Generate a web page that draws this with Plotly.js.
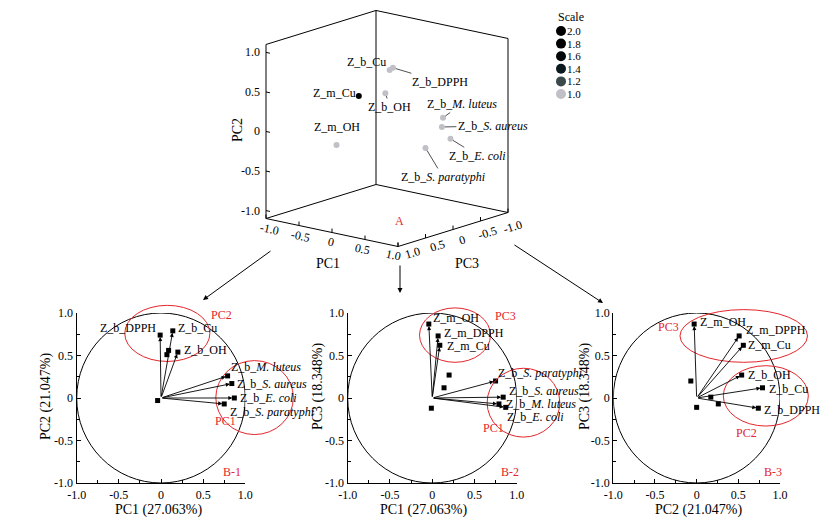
<!DOCTYPE html>
<html><head><meta charset="utf-8">
<script src="https://cdn.plot.ly/plotly-3.0.1.min.js"></script>
<style>body{margin:0;background:#fff}#chart{width:830px;height:530px}</style>
</head><body><div id="chart"></div>
<script>
// ---------------- data ----------------
const variables = ['Z_b_DPPH','Z_b_Cu','Z_b_OH','Z_b_M. luteus','Z_b_S. aureus','Z_b_E. coli','Z_b_S. paratyphi','Z_m_OH','Z_m_DPPH','Z_m_Cu'];
const varLabels = ['Z_b_DPPH','Z_b_Cu','Z_b_OH','Z_b_<i>M. luteus</i>','Z_b_<i>S. aureus</i>','Z_b_<i>E. coli</i>','Z_b_<i>S. paratyphi</i>','Z_m_OH','Z_m_DPPH','Z_m_Cu'];
const pc1 = [-0.01, 0.14, 0.20, 0.79, 0.84, 0.87, 0.75, -0.04, 0.07, 0.09];
const pc2 = [0.74, 0.79, 0.54, 0.26, 0.17, 0.00, -0.07, -0.03, 0.51, 0.56];
const pc3 = [-0.12, 0.12, 0.27, -0.07, 0.01, -0.11, 0.20, 0.87, 0.73, 0.62];
const scale3d = [1.0, 1.0, 1.0, 1.0, 1.0, 1.0, 1.0, 1.0, null, 2.0];
const scaleLevels = [2.0, 1.8, 1.6, 1.4, 1.2, 1.0];
const scaleColors = ['#000000', '#000000', '#03080a', '#0c1a20', '#3a4a4b', '#c1c0c7'];
const tickVals = [-1, -0.5, 0, 0.5, 1];
const tickText = ['-1.0', '-0.5', '0', '0.5', '1.0'];
const minorVals = [-0.75, -0.25, 0.25, 0.75];
const pcTitles = ['PC1 (27.063%)', 'PC2 (21.047%)', 'PC3 (18.348%)'];

// ---------------- style / layout config ----------------
const FONT = "'Liberation Serif', 'Times New Roman', Times, serif";
const RED = '#e3262b';
const pyTop = 313, pyBot = 483;
const panels = [
  {xa:'x', ya:'y', px:[76.7,245.3], xs:pc1, ys:pc2, xT:pcTitles[0], yT:pcTitles[1], xTp:[158,510], yTp:[46,397],
   labels:[[0,-2,-7,'right'],[1,3,-3],[2,4,-2],[3,1,-9],[4,3,0],[5,3.5,0],[6,4,8]],
   ell:[{x:[-0.43,0.58],y:[0.43,1.09],t:'PC2',tp:[221.7,315]},{x:[0.65,1.57],y:[-0.43,0.44],t:'PC1',tp:[225,421]}],
   tag:['B-1',231.7,471.7]},
  {xa:'x2', ya:'y2', px:[347.7,516.7], xs:pc1, ys:pc3, xT:pcTitles[0], yT:pcTitles[2], xTp:[423,510], yTp:[318,387],
   labels:[[7,2,-6],[8,4,-3],[9,5,1],[6,0,-8],[4,4,-6],[3,5,0],[5,-1,10]],
   ell:[{x:[-0.15,0.69],y:[0.42,1.06],t:'PC3',tp:[505,316]},{x:[0.65,1.51],y:[-0.46,0.35],t:'PC1',tp:[493.3,428.3]}],
   tag:['B-2',510,471.7]},
  {xa:'x3', ya:'y3', px:[613.3,780], xs:pc2, ys:pc3, xT:pcTitles[1], yT:pcTitles[2], xTp:[698,510], yTp:[585,387],
   labels:[[7,4,-2],[8,5,-6],[9,3,0],[2,4,0],[1,4,1],[0,4,2]],
   ell:[{x:[-0.20,1.33],y:[0.42,1.04],t:'PC3',tp:[668.3,326.7]},{x:[0.32,1.34],y:[-0.33,0.38],t:'PC2',tp:[746.7,433.3]}],
   tag:['B-3',773.3,471.7]}
];

// 3D oblique projection (pixel space of the overlay axis)
const P = {cx:387, cy:215.5, ax:66, ay:14, bx:-55, by:17, v:79.1, floor:-1.1, top:1.1};
function proj(a, b, c) { return [P.cx + P.ax*a + P.bx*c, P.cy + P.ay*a + P.by*c - P.v*(b - P.floor)]; }
// label offsets (px) relative to projected point: [index, dx, dy, leader]
const labels3d = [[1,-23.6,-8,true],[0,47,14,true],[9,-24,-3,false],[2,4.6,13.8,true],[3,18.7,-13.8,true],
                  [7,0,-18.4,false],[4,51,-1,true],[5,27.5,17,true],[6,17.5,29,true]];

const traces = [], shapes = [], ann = [];
const tf = {family:FONT, size:12, color:'#000'};

// ---------------- 2D loading panels ----------------
const layout = {
  width:830, height:530, margin:{l:0,r:0,t:0,b:0}, showlegend:false,
  paper_bgcolor:'#fff', plot_bgcolor:'rgba(0,0,0,0)', font:tf,
  xaxis4:{domain:[0,1], range:[0,830], visible:false, fixedrange:true, anchor:'y4'},
  yaxis4:{domain:[0,1], range:[530,0], visible:false, fixedrange:true, anchor:'x4'}
};
panels.forEach((p, k) => {
  const sfx = k === 0 ? '' : String(k+1);
  const common = {range:[-1,1], showline:true, linecolor:'#000', linewidth:1.2, ticks:'inside', ticklen:4,
    tickwidth:1, tickcolor:'#000', tickvals:tickVals, ticktext:tickText, showgrid:false, zeroline:false,
    tickfont:tf, fixedrange:true,
    minor:{ticks:'inside', ticklen:3, tickvals:minorVals, tickcolor:'#000', tickwidth:1, showgrid:false}};
  layout['xaxis'+sfx] = Object.assign({}, common, {domain:[p.px[0]/830, p.px[1]/830], anchor:'y'+sfx});
  layout['yaxis'+sfx] = Object.assign({}, common, {domain:[(530-pyBot)/530, (530-pyTop)/530], anchor:'x'+sfx});
  traces.push({type:'scatter', mode:'markers', x:p.xs, y:p.ys, xaxis:p.xa, yaxis:p.ya, cliponaxis:false,
    marker:{symbol:'square', size:5, color:'#000'}, hoverinfo:'skip'});
  shapes.push({type:'circle', xref:p.xa, yref:p.ya, x0:-1, x1:1, y0:-1, y1:1, line:{color:'#000', width:1}});
  p.labels.forEach(l => {
    const i = l[0];
    ann.push({xref:p.xa, yref:p.ya, x:p.xs[i], y:p.ys[i], axref:p.xa, ayref:p.ya, ax:0, ay:0, text:'',
      showarrow:true, arrowhead:2, arrowsize:0.9, arrowwidth:0.9, arrowcolor:'#000', standoff:2});
    ann.push({xref:p.xa, yref:p.ya, x:p.xs[i], y:p.ys[i], text:varLabels[i], showarrow:false,
      xanchor:l[3] || 'left', yanchor:'middle', xshift:l[1], yshift:-l[2], font:tf});
  });
  const toPx = v => p.px[0] + (v+1)/2*(p.px[1]-p.px[0]);
  const toPy = v => pyBot - (v+1)/2*(pyBot-pyTop);
  p.ell.forEach(e => {
    shapes.push({type:'circle', xref:'x4', yref:'y4', x0:toPx(e.x[0]), x1:toPx(e.x[1]), y0:toPy(e.y[0]), y1:toPy(e.y[1]),
      line:{color:RED, width:1}});
    ann.push({xref:'x4', yref:'y4', x:e.tp[0], y:e.tp[1], text:e.t, showarrow:false, font:{family:FONT,size:12,color:RED}});
  });
  ann.push({xref:'x4', yref:'y4', x:p.tag[1], y:p.tag[2], text:p.tag[0], showarrow:false, font:{family:FONT,size:12,color:RED}});
  ann.push({xref:'x4', yref:'y4', x:p.xTp[0], y:p.xTp[1], text:p.xT, showarrow:false, font:{family:FONT,size:14,color:'#000'}});
  ann.push({xref:'x4', yref:'y4', x:p.yTp[0], y:p.yTp[1], text:p.yT, textangle:-90, showarrow:false, font:{family:FONT,size:14,color:'#000'}});
});

// ---------------- 3D panel (oblique projection) ----------------
const bx = [], by = [];
function seg(pts) { pts.forEach(q => { const s = proj(q[0], q[1], q[2]); bx.push(s[0]); by.push(s[1]); }); bx.push(null); by.push(null); }
const F = P.floor, T = P.top;
seg([[-1,F,1],[-1,T,1]]); seg([[-1,F,-1],[-1,T,-1]]); seg([[1,F,-1],[1,T,-1]]);
seg([[-1,T,1],[-1,T,-1],[1,T,-1]]);
seg([[-1,F,1],[1,F,1],[1,F,-1],[-1,F,-1],[-1,F,1]]);
// ticks
tickVals.forEach(v => {
  seg([[-1,v,1],[-0.94,v,1]]);
  seg([[v,F,1],[v,F+0.05,1]]);
  seg([[1,F,v],[1,F+0.05,v]]);
});
traces.push({type:'scatter', mode:'lines', x:bx, y:by, xaxis:'x4', yaxis:'y4', line:{color:'#000', width:1}, hoverinfo:'skip'});

const p3x = [], p3y = [], p3c = [];
variables.forEach((n, i) => {
  if (scale3d[i] === null) return;
  const s = proj(pc1[i], pc2[i], pc3[i]);
  p3x.push(s[0]); p3y.push(s[1]); p3c.push(scaleColors[scaleLevels.indexOf(scale3d[i])]);
});
traces.push({type:'scatter', mode:'markers', x:p3x, y:p3y, xaxis:'x4', yaxis:'y4',
  marker:{size:6, color:p3c}, hoverinfo:'skip'});
labels3d.forEach(l => {
  const i = l[0], s = proj(pc1[i], pc2[i], pc3[i]);
  if (l[3]) {
    ann.push({xref:'x4', yref:'y4', x:s[0], y:s[1], ax:l[1], ay:l[2], text:varLabels[i], showarrow:true,
      arrowhead:0, arrowwidth:0.8, arrowcolor:'#222', standoff:3, font:tf});
  } else {
    ann.push({xref:'x4', yref:'y4', x:s[0], y:s[1], xshift:l[1], yshift:-l[2], text:varLabels[i], showarrow:false, font:tf});
  }
});
// 3D tick labels
tickVals.forEach((v, k) => {
  let s = proj(-1, v, 1);
  ann.push({xref:'x4', yref:'y4', x:s[0], y:s[1], text:tickText[k], showarrow:false, xanchor:'right', xshift:-4, font:tf});
  s = proj(v, F, 1);
  ann.push({xref:'x4', yref:'y4', x:s[0], y:s[1], text:tickText[k], showarrow:false, xshift:-1 - 4*v, yshift:-(9.5 - v), textangle:12, font:tf});
  s = proj(1, F, v);
  ann.push({xref:'x4', yref:'y4', x:s[0], y:s[1], text:tickText[k], showarrow:false, xshift:9 + 5*v, yshift:-(10 - 4*v), textangle:-17, font:tf});
});
ann.push({xref:'x4', yref:'y4', x:328, y:263, text:'PC1', showarrow:false, font:{family:FONT,size:14,color:'#000'}});
ann.push({xref:'x4', yref:'y4', x:467, y:263, text:'PC3', showarrow:false, font:{family:FONT,size:14,color:'#000'}});
ann.push({xref:'x4', yref:'y4', x:237, y:130, text:'PC2', textangle:-90, showarrow:false, font:{family:FONT,size:14,color:'#000'}});
ann.push({xref:'x4', yref:'y4', x:399, y:221, text:'A', showarrow:false, font:{family:FONT,size:12,color:RED}});

// scale legend
const lf = {family:FONT, size:11, color:'#000'};
traces.push({type:'scatter', mode:'markers', x:scaleLevels.map(() => 561), y:scaleLevels.map((v, k) => 31 + k*12.6),
  xaxis:'x4', yaxis:'y4', marker:{size:10, color:scaleColors}, hoverinfo:'skip'});
ann.push({xref:'x4', yref:'y4', x:556, y:17, text:'Scale', xanchor:'left', showarrow:false, font:tf});
scaleLevels.forEach((v, k) => {
  ann.push({xref:'x4', yref:'y4', x:566, y:31 + k*12.6, text:v.toFixed(1), xanchor:'left', showarrow:false, font:lf, borderpad:0});
});

// connector arrows
[[272,250,203,300],[400,264,400,293],[513,244,603,303]].forEach(a => {
  ann.push({xref:'x4', yref:'y4', axref:'x4', ayref:'y4', x:a[2], y:a[3], ax:a[0], ay:a[1], text:'',
    showarrow:true, arrowhead:2, arrowsize:1, arrowwidth:1, arrowcolor:'#000'});
});

layout.shapes = shapes;
layout.annotations = ann;
Plotly.newPlot('chart', traces, layout, {staticPlot:true});
</script>
</body></html>
